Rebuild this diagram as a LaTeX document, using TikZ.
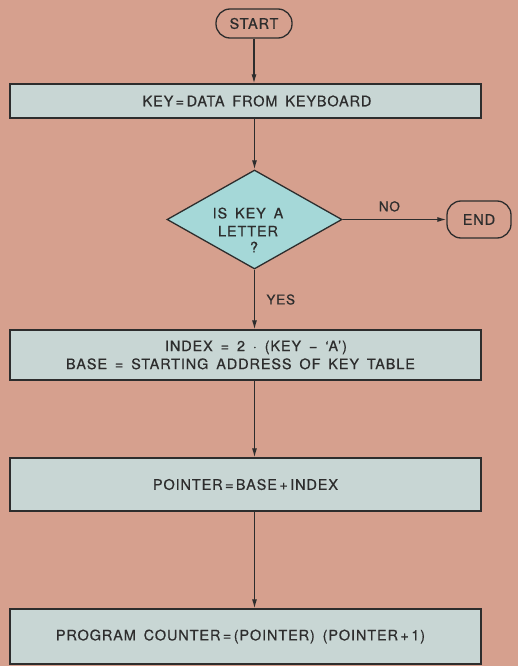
\documentclass[tikz,border=0pt]{standalone}
\usepackage{fontspec}
\setmainfont{TeX Gyre Heros}[LetterSpace=6,WordSpace=1.6,FakeBold=0.5]
\usetikzlibrary{shapes.geometric,arrows.meta}
\definecolor{bg}{RGB}{214,160,142}
\definecolor{boxfill}{RGB}{200,214,212}
\definecolor{decfill}{RGB}{165,216,216}
\definecolor{ink}{RGB}{45,45,45}
\begin{document}
\begin{tikzpicture}[x=1pt,y=-1pt,
  every node/.style={text=ink,font=\fontsize{14.5}{18}\selectfont},
  procbox/.style={draw=ink,line width=1.3pt,fill=boxfill,minimum width=471pt,inner sep=0pt},
  term/.style={draw=ink,line width=1.3pt,rounded corners=14pt,inner sep=0pt},
  decision/.style={draw=ink,line width=1.3pt,fill=decfill,diamond,inner sep=0pt},
  flow/.style={draw=ink,line width=1.2pt,-{Latex[length=9pt,width=5pt]}},
  lbl/.style={font=\fontsize{13.5}{16}\selectfont}]
\fill[bg] (0,0) rectangle (518,666);
\node[term,minimum width=76pt,minimum height=29pt] (start) at (254,23.5) {START};
\node[procbox,minimum height=34pt] (b1) at (245.5,101) {\hspace*{23pt}KEY\,=\,DATA FROM KEYBOARD};
\node[decision,minimum width=175pt,minimum height=99pt] (dec) at (254.5,219.5) {};
\node[align=center,inner sep=0pt,font=\fontsize{14.5}{18}\selectfont] (dectext) at (248,230) {IS KEY A\\LETTER\\[-2pt]\hspace*{12pt}?};
\node[term,minimum width=64pt,minimum height=37pt] (end) at (479,219.5) {END};
\node[procbox,minimum height=50pt,align=center] (b2) at (245.5,355) {\hspace*{21pt}INDEX = 2 · (KEY − ‘A’)\\BASE = STARTING ADDRESS OF KEY TABLE\hspace*{10pt}};
\node[procbox,minimum height=53pt] (b3) at (245.5,484.5) {POINTER\,=\,BASE\,+\,INDEX};
\node[procbox,minimum height=55pt] (b4) at (245.5,636.5) {PROGRAM COUNTER\,=\,(POINTER) (POINTER\,+\,1)\hspace*{10pt}};
\draw[flow] (start.south) -- (start.south |- b1.north);
\draw[flow] (dec.north |- b1.south) -- (dec.north);
\draw[flow] (dec.east) -- node[lbl,above=4pt,pos=0.45] {NO} (end.west);
\draw[flow] (dec.south) -- node[lbl,right=8pt,pos=0.5] {YES} (dec.south |- b2.north);
\draw[flow] (dec.south |- b2.south) -- (dec.south |- b3.north);
\draw[flow] (dec.south |- b3.south) -- (dec.south |- b4.north);
\end{tikzpicture}
\end{document}
